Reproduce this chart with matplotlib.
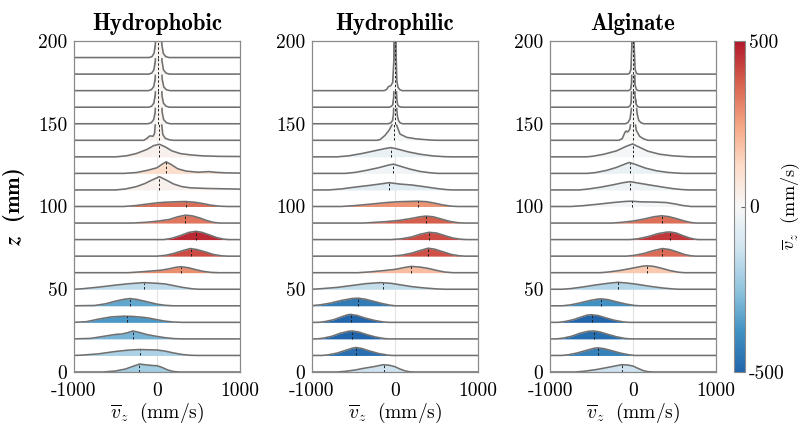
import numpy as np
import matplotlib
matplotlib.use("Agg")
import matplotlib.pyplot as plt
from matplotlib.colors import LinearSegmentedColormap, Normalize
from matplotlib.cm import ScalarMappable

plt.rcParams["font.family"] = "serif"
plt.rcParams["font.serif"] = ["cmr10", "DejaVu Serif"]
plt.rcParams["mathtext.fontset"] = "cm"
plt.rcParams["axes.unicode_minus"] = False
plt.rcParams["axes.formatter.use_mathtext"] = True

# ---------------- data ----------------
titles = ["Hydrophobic", "Hydrophilic", "Alginate"]
x_ticks = [-1000, 0, 1000]
y_ticks = [0, 50, 100, 150, 200]
cbar_ticks = [-500, 0, 500]

# Hydrophobic
phobic_z = [0, 10, 20, 30, 40, 50, 60, 70, 80, 90, 100, 110, 120, 130, 140, 150, 160, 170, 180, 190]
phobic_mean = [-215, -200, -290, -360, -325, -160, 290, 410, 465, 335, 350, 30, 110, 30, 20, 15, 15, 15, 15, 15]
phobic_curves = [
    [(-1000, 0), (-650, 0), (-500, 0.6), (-380, 1.8), (-280, 3.6), (-210, 4.8), (-130, 4.3), (-50, 3.9), (0, 3.8), (60, 2.8), (130, 1.2), (200, 0.3), (280, 0), (1000, 0)],
    [(-1000, 0), (-900, 0.2), (-700, 1.0), (-500, 2.4), (-350, 3.2), (-210, 3.6), (-100, 3.4), (0, 3.3), (100, 2.6), (200, 1.5), (300, 0.6), (400, 0.1), (500, 0), (1000, 0)],
    [(-1000, 0), (-800, 0.3), (-650, 1.5), (-500, 2.7), (-420, 3.0), (-350, 3.8), (-290, 4.8), (-220, 4.0), (-120, 2.6), (0, 1.5), (100, 0.7), (200, 0.2), (300, 0), (1000, 0)],
    [(-1000, 0), (-850, 0.4), (-700, 2.0), (-550, 3.3), (-400, 3.7), (-300, 3.6), (-200, 3.2), (-100, 2.6), (0, 1.6), (100, 0.7), (200, 0.2), (300, 0), (1000, 0)],
    [(-1000, 0), (-750, 0.2), (-620, 1.2), (-500, 2.8), (-400, 3.9), (-325, 4.4), (-250, 3.9), (-150, 2.8), (-50, 1.6), (0, 1.0), (100, 0.3), (200, 0), (1000, 0)],
    [(-1000, 0), (-900, 0.3), (-700, 1.3), (-500, 2.5), (-350, 3.3), (-160, 4.0), (0, 3.6), (100, 3.2), (200, 2.2), (300, 1.2), (420, 0.3), (500, 0), (1000, 0)],
    [(-1000, 0), (-350, 0), (-200, 0.5), (-50, 1.1), (50, 1.5), (150, 2.4), (230, 3.3), (290, 3.6), (380, 3.0), (470, 1.8), (560, 0.8), (650, 0.2), (750, 0), (1000, 0)],
    [(-1000, 0), (0, 0), (100, 0.5), (200, 1.6), (300, 3.2), (400, 4.6), (480, 4.0), (580, 2.6), (680, 1.0), (780, 0.2), (850, 0), (1000, 0)],
    [(-1000, 0), (80, 0), (180, 0.8), (280, 2.4), (380, 4.3), (465, 5.0), (540, 4.4), (640, 2.7), (720, 1.2), (800, 0.3), (870, 0), (1000, 0)],
    [(-1000, 0), (-300, 0), (-150, 0.4), (0, 1.1), (150, 2.2), (250, 3.8), (345, 4.8), (430, 4.3), (520, 3.0), (600, 1.5), (680, 0.4), (760, 0), (1000, 0)],
    [(-1000, 0), (-400, 0), (-250, 0.6), (-100, 1.6), (0, 2.2), (100, 2.6), (250, 2.9), (345, 3.0), (450, 2.6), (550, 1.8), (650, 0.8), (750, 0.2), (850, 0), (1000, 0)],
    [(-1000, 0), (-500, 0), (-380, 0.6), (-250, 2.0), (-150, 3.8), (-60, 6.0), (30, 8.0), (110, 6.0), (200, 3.6), (300, 2.0), (400, 1.3), (600, 0.9), (800, 0.7), (1000, 0.5)],
    [(-1000, 0), (-400, 0), (-250, 0.5), (-120, 1.8), (0, 3.4), (60, 5.5), (110, 7.0), (170, 5.4), (250, 2.8), (350, 1.4), (500, 0.7), (620, 1.1), (720, 0.6), (850, 0.3), (1000, 0.2)],
    [(-1000, 0), (-500, 0), (-370, 0.6), (-250, 2.0), (-120, 4.5), (-40, 6.8), (30, 7.6), (100, 6.0), (180, 3.6), (280, 2.0), (400, 1.2), (550, 0.6), (750, 0.3), (1000, 0.2)],
    [(-1000, 0), (-160, 0), (-120, 1.2), (-90, 2.6), (-70, 2.6), (-50, 2.4), (-30, 4.0), (-12, 15), (5, 55), (20, 90), (38, 45), (52, 12), (70, 3.5), (100, 1.2), (150, 0.3), (200, 0), (1000, 0)],
    [(-1000, 0), (-110, 0), (-70, 0.6), (-40, 2.5), (-22, 7), (-12, 25), (0, 60), (15, 95), (35, 60), (50, 25), (62, 7), (80, 2.5), (115, 0.6), (160, 0), (1000, 0)],
    [(-1000, 0), (-100, 0), (-65, 0.6), (-38, 2.5), (-20, 8), (-10, 28), (2, 60), (15, 95), (33, 60), (48, 25), (60, 7), (78, 2.4), (110, 0.6), (150, 0), (1000, 0)],
    [(-1000, 0), (-105, 0), (-68, 0.6), (-40, 2.4), (-22, 7), (-12, 25), (0, 60), (15, 95), (35, 60), (50, 24), (62, 7), (82, 2.2), (115, 0.5), (160, 0), (1000, 0)],
    [(-1000, 0), (-100, 0), (-64, 0.6), (-38, 2.6), (-20, 8), (-10, 28), (2, 62), (15, 95), (33, 62), (48, 26), (60, 8), (78, 2.5), (110, 0.6), (150, 0), (1000, 0)],
    [(-1000, 0), (-95, 0), (-60, 0.6), (-36, 2.6), (-20, 8), (-10, 28), (2, 62), (15, 95), (32, 62), (46, 26), (58, 8), (76, 2.5), (105, 0.6), (145, 0), (1000, 0)],
]

# Hydrophilic
philic_z = [0, 10, 20, 30, 40, 50, 60, 70, 80, 90, 100, 110, 120, 130, 140, 150, 160, 170]
philic_mean = [-130, -470, -520, -535, -440, -150, 195, 400, 410, 375, 280, -70, -20, -45, -10, 0, 0, 0]
philic_curves = [
    [(-1000, 0), (-700, 0), (-600, 0.4), (-480, 1.2), (-380, 2.2), (-260, 3.2), (-140, 4.4), (-60, 4.0), (0, 3.2), (60, 1.8), (120, 0.7), (180, 0.1), (250, 0), (1000, 0)],
    [(-1000, 0), (-880, 0), (-800, 0.4), (-700, 1.4), (-600, 3.0), (-520, 4.3), (-470, 4.8), (-400, 4.2), (-300, 2.6), (-200, 1.2), (-100, 0.3), (-40, 0), (1000, 0)],
    [(-1000, 0), (-940, 0), (-860, 0.5), (-760, 1.6), (-660, 3.4), (-560, 4.6), (-520, 4.8), (-440, 4.2), (-340, 2.6), (-240, 1.2), (-140, 0.3), (-80, 0), (1000, 0)],
    [(-1000, 0), (-920, 0), (-840, 0.5), (-740, 1.6), (-640, 3.4), (-570, 4.6), (-535, 4.8), (-460, 4.2), (-360, 2.6), (-250, 1.2), (-150, 0.3), (-80, 0), (1000, 0)],
    [(-1000, 0.1), (-900, 0.6), (-780, 1.6), (-650, 3.2), (-520, 4.4), (-440, 4.6), (-360, 4.0), (-250, 2.6), (-150, 1.3), (-60, 0.4), (0, 0), (1000, 0)],
    [(-1000, 0), (-900, 0.3), (-700, 1.1), (-500, 2.4), (-350, 3.4), (-170, 4.0), (-50, 3.6), (50, 2.8), (200, 1.6), (350, 0.8), (500, 0.2), (600, 0), (1000, 0)],
    [(-1000, 0), (-450, 0), (-300, 0.5), (-150, 1.2), (0, 2.0), (120, 3.2), (200, 3.8), (300, 3.4), (400, 2.6), (500, 1.4), (600, 0.4), (700, 0), (1000, 0)],
    [(-1000, 0), (-50, 0), (80, 0.6), (200, 1.8), (300, 3.4), (400, 4.8), (480, 4.2), (580, 2.6), (680, 1.0), (780, 0.2), (850, 0), (1000, 0)],
    [(-1000, 0), (-50, 0), (80, 0.5), (200, 1.6), (300, 3.2), (410, 4.4), (500, 4.0), (600, 2.4), (700, 0.9), (800, 0.2), (870, 0), (1000, 0)],
    [(-1000, 0), (-380, 0), (-250, 0.4), (-100, 0.9), (50, 1.6), (200, 2.8), (300, 3.8), (375, 4.2), (460, 3.8), (560, 2.4), (660, 1.0), (760, 0.2), (840, 0), (1000, 0)],
    [(-1000, 0), (-650, 0), (-500, 0.5), (-300, 1.4), (-100, 2.4), (50, 2.9), (200, 3.1), (280, 3.2), (380, 2.9), (480, 2.0), (580, 0.9), (680, 0.2), (760, 0), (1000, 0)],
    [(-1000, 0), (-800, 0), (-650, 0.6), (-500, 1.6), (-300, 2.8), (-150, 3.8), (-70, 4.4), (50, 3.6), (200, 3.0), (350, 2.0), (500, 0.9), (620, 0.2), (700, 0), (1000, 0)],
    [(-1000, 0), (-600, 0), (-480, 0.6), (-350, 1.8), (-200, 3.4), (-80, 5.0), (-20, 5.6), (60, 4.4), (180, 2.6), (300, 1.2), (420, 0.4), (520, 0), (1000, 0)],
    [(-1000, 0), (-700, 0), (-560, 0.6), (-400, 2.0), (-250, 3.6), (-120, 5.0), (-50, 5.6), (40, 4.6), (160, 3.0), (300, 1.6), (450, 0.6), (600, 0.1), (700, 0), (1000, 0)],
    [(-1000, 0), (-220, 0), (-180, 0.4), (-120, 3.0), (-70, 6.2), (-30, 10), (-10, 12.6), (20, 9.2), (60, 3.8), (140, 1.8), (250, 0.9), (340, 0.5), (450, 0.1), (520, 0), (1000, 0)],
    [(-1000, 0), (-80, 0), (-50, 0.6), (-30, 2.0), (-18, 6), (-9, 30), (0, 90), (12, 30), (22, 8), (30, 4.5), (42, 2), (60, 0.6), (90, 0), (1000, 0)],
    [(-1000, 0), (-70, 0), (-45, 0.5), (-28, 1.5), (-16, 6), (-8, 30), (0, 90), (10, 30), (18, 6), (32, 1.5), (50, 0.4), (80, 0), (1000, 0)],
    [(-1000, 0), (-130, 0), (-100, 0.8), (-80, 2.4), (-50, 3.0), (-28, 5), (-12, 20), (0, 90), (12, 25), (22, 6), (36, 2), (60, 0.5), (90, 0), (1000, 0)],
]

# Alginate
alg_z = [0, 10, 20, 30, 40, 50, 60, 70, 80, 90, 100, 110, 120, 130, 140, 150, 160, 170, 180]
alg_mean = [-130, -425, -475, -500, -380, -180, 165, 355, 445, 345, -15, -35, -40, -5, 0, 0, 0, 0, 0]
alg_curves = [
    [(-1000, 0), (-700, 0), (-600, 0.4), (-450, 1.4), (-300, 2.8), (-200, 3.8), (-135, 4.4), (-60, 4.2), (0, 3.6), (60, 2.2), (120, 0.9), (180, 0.2), (240, 0), (1000, 0)],
    [(-1000, 0), (-860, 0), (-780, 0.4), (-680, 1.4), (-580, 2.8), (-480, 4.2), (-425, 4.6), (-350, 4.1), (-250, 2.8), (-150, 1.4), (-50, 0.4), (20, 0), (1000, 0)],
    [(-1000, 0), (-920, 0), (-840, 0.5), (-740, 1.6), (-640, 3.4), (-540, 4.6), (-475, 4.8), (-400, 4.2), (-300, 2.7), (-200, 1.3), (-100, 0.3), (-30, 0), (1000, 0)],
    [(-1000, 0), (-900, 0), (-820, 0.5), (-720, 1.6), (-620, 3.3), (-550, 4.4), (-500, 4.6), (-420, 4.1), (-320, 2.6), (-220, 1.2), (-120, 0.3), (-50, 0), (1000, 0)],
    [(-1000, 0), (-850, 0), (-760, 0.5), (-650, 1.6), (-520, 3.2), (-420, 4.1), (-380, 4.2), (-300, 3.7), (-200, 2.4), (-80, 1.0), (20, 0.2), (80, 0), (1000, 0)],
    [(-1000, 0), (-850, 0), (-750, 0.4), (-600, 1.4), (-450, 2.6), (-300, 3.6), (-185, 4.2), (-80, 3.8), (50, 3.0), (200, 1.8), (350, 0.8), (480, 0.2), (560, 0), (1000, 0)],
    [(-1000, 0), (-400, 0), (-300, 0.4), (-150, 1.4), (0, 2.8), (100, 3.8), (165, 4.2), (250, 3.8), (350, 2.6), (450, 1.2), (550, 0.3), (620, 0), (1000, 0)],
    [(-1000, 0), (-80, 0), (20, 0.5), (130, 1.6), (250, 3.4), (355, 4.6), (440, 4.0), (530, 2.6), (620, 1.0), (700, 0.2), (760, 0), (1000, 0)],
    [(-1000, 0), (-40, 0), (60, 0.5), (180, 1.8), (300, 3.6), (400, 4.5), (445, 4.6), (520, 4.0), (600, 2.4), (680, 1.0), (750, 0.2), (800, 0), (1000, 0)],
    [(-1000, 0), (-250, 0), (-120, 0.5), (0, 1.2), (130, 2.4), (250, 3.8), (345, 4.4), (430, 3.9), (530, 2.6), (620, 1.2), (700, 0.3), (760, 0), (1000, 0)],
    [(-1000, 0), (-750, 0), (-600, 0.5), (-400, 1.5), (-200, 2.6), (-80, 3.1), (-15, 3.2), (100, 2.8), (250, 2.7), (400, 2.4), (500, 1.6), (600, 0.6), (700, 0), (1000, 0)],
    [(-1000, 0), (-650, 0), (-550, 0.5), (-400, 1.6), (-250, 3.0), (-120, 4.4), (-35, 5.0), (60, 4.2), (200, 3.0), (350, 1.8), (480, 0.8), (600, 0.2), (680, 0), (1000, 0)],
    [(-1000, 0), (-550, 0), (-450, 0.5), (-320, 1.8), (-200, 3.6), (-100, 5.6), (-45, 6.6), (30, 5.4), (150, 3.2), (280, 1.6), (420, 0.6), (560, 0.1), (620, 0), (1000, 0)],
    [(-1000, 0), (-560, 0), (-480, 0.4), (-350, 1.6), (-200, 3.6), (-80, 6.4), (-5, 7.8), (70, 6.0), (180, 3.4), (320, 1.6), (480, 0.6), (650, 0.1), (720, 0), (1000, 0)],
    [(-1000, 0), (-170, 0), (-130, 1.0), (-100, 4.5), (-85, 5.6), (-65, 5.0), (-40, 6.5), (-15, 14), (0, 24), (15, 14), (40, 6), (80, 2.4), (130, 0.8), (180, 0), (1000, 0)],
    [(-1000, 0), (-90, 0), (-60, 0.8), (-35, 3), (-18, 10), (-8, 40), (0, 90), (12, 40), (22, 16), (35, 14), (50, 6), (70, 2), (100, 0.5), (130, 0), (1000, 0)],
    [(-1000, 0), (-60, 0), (-35, 0.8), (-22, 3), (-12, 20), (0, 90), (12, 30), (22, 8), (35, 2), (55, 0.5), (80, 0), (1000, 0)],
    [(-1000, 0), (-55, 0), (-30, 0.8), (-18, 4), (-10, 25), (0, 90), (12, 25), (22, 4), (40, 0.8), (60, 0), (1000, 0)],
    [(-1000, 0), (-60, 0), (-40, 0.6), (-25, 3), (-12, 20), (0, 90), (12, 20), (25, 3), (40, 0.6), (60, 0), (1000, 0)],
]

# ---------------- styling ----------------
cmap = LinearSegmentedColormap.from_list(
    "rb", ["#2166ac", "#4393c3", "#92c5de", "#d1e5f0", "#f7f7f7",
           "#fddbc7", "#f4a582", "#d6604d", "#b2182b"])
norm = Normalize(vmin=-500, vmax=500)
line_col = "#707070"
frame_col = "#8a8a8a"

fig = plt.figure(figsize=(8.04, 4.28), dpi=100)
W, H = 804.0, 428.0
bottom = (H - 372) / H
height = 331 / H
lefts = [74, 312, 550]
pw = 166

panels = [(phobic_z, phobic_mean, phobic_curves),
          (philic_z, philic_mean, philic_curves),
          (alg_z, alg_mean, alg_curves)]

axes = []
for i, (zs, means, curves) in enumerate(panels):
    ax = fig.add_axes([lefts[i] / W, bottom, pw / W, height])
    axes.append(ax)
    ax.axvline(0, color="#e2e2e2", lw=0.8, zorder=0)
    for k, (z, m, cv) in enumerate(zip(zs, means, curves)):
        v = np.array([p[0] for p in cv], dtype=float)
        h = np.array([p[1] for p in cv], dtype=float)
        zo = 2 + k * 0.01
        ax.fill_between(v, z, z + h, color=cmap(norm(m)), lw=0, zorder=zo)
        ax.plot(v, z + h, color=line_col, lw=1.15, zorder=zo + 0.002)
        hm = np.interp(m, v, h)
        ax.plot([m, m], [z, z + hm], color="#222222", lw=0.7,
                ls=(0, (2.5, 2)), zorder=zo + 0.004)
    ax.set_xlim(-1000, 1000)
    ax.set_ylim(0, 200)
    ax.set_xticks(x_ticks)
    ax.set_xticklabels([str(t) for t in x_ticks], fontsize=14)
    ax.set_yticks(y_ticks)
    ax.set_yticklabels([str(t) for t in y_ticks], fontsize=14)
    ax.tick_params(axis="y", length=0, pad=5)
    ax.tick_params(axis="x", length=0, pad=7)
    for s in ax.spines.values():
        s.set_color(frame_col)
        s.set_linewidth(0.9)
        s.set_zorder(5)
    ax.set_title(titles[i], fontfamily=["cmb10", "DejaVu Serif"],
                 fontsize=16.5, pad=8, fontweight="bold")
    ax.set_xlabel(r"$\overline{v}_z\;$ (mm/s)", fontsize=14, labelpad=1)

axes[0].set_ylabel(r"$\mathbfit{z}\;$ (mm)", fontfamily=["cmb10", "DejaVu Serif"],
                   fontsize=16, labelpad=8)

cax = fig.add_axes([734 / W, bottom, 11 / W, height])
sm = ScalarMappable(norm=norm, cmap=cmap)
cb = fig.colorbar(sm, cax=cax)
cb.set_ticks(cbar_ticks)
cb.set_ticklabels([str(t) for t in cbar_ticks])
cb.ax.tick_params(labelsize=14, length=3, direction="in", color="#666666", pad=3)
cb.outline.set_edgecolor(frame_col)
cb.outline.set_linewidth(0.8)
cb.set_label(r"$\overline{v}_z\;$ (mm/s)", fontsize=13)
cb.ax.yaxis.set_label_coords(4.1, 0.5)

try:
    fig.canvas.draw()
except Exception:
    axes[0].set_ylabel(r"$z$ (mm)", fontfamily=["cmb10", "DejaVu Serif"],
                       fontsize=16, labelpad=8, fontweight="bold")

fig.savefig("out.png", dpi=100)
